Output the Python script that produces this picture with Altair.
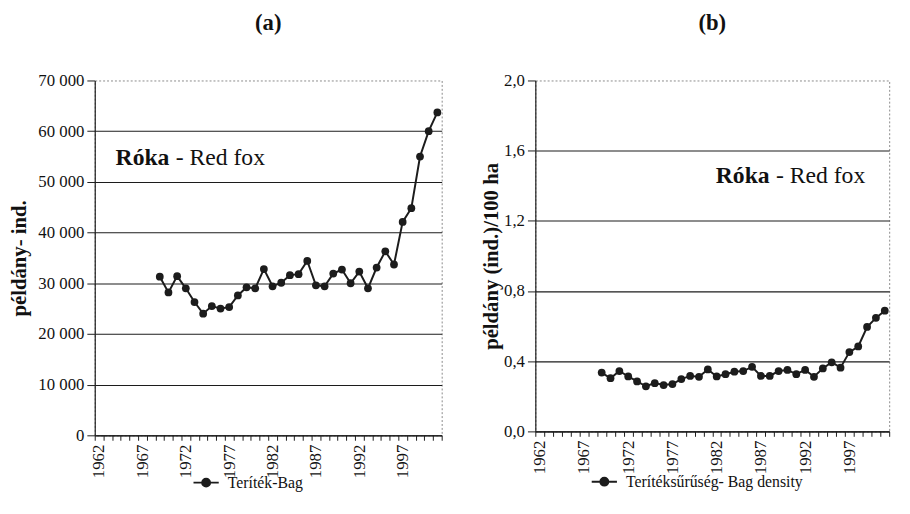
import altair as alt
import pandas as pd

# ---- data ----
years = list(range(1969, 2002))
bag = [31300, 28200, 31400, 29000, 26300, 24000, 25500, 25000, 25300, 27600,
       29200, 29000, 32800, 29400, 30100, 31600, 31800, 34400, 29600, 29400,
       31900, 32700, 30000, 32300, 29000, 33100, 36300, 33700, 42100, 44800,
       55000, 60000, 63700]
density = [0.335, 0.303, 0.344, 0.313, 0.285, 0.257, 0.275, 0.264, 0.270, 0.298,
           0.316, 0.311, 0.353, 0.313, 0.326, 0.340, 0.344, 0.368, 0.316, 0.316,
           0.344, 0.350, 0.326, 0.350, 0.311, 0.359, 0.394, 0.363, 0.452, 0.484,
           0.595, 0.647, 0.688]
left_ticks = [0, 10000, 20000, 30000, 40000, 50000, 60000, 70000]
right_ticks = [0.0, 0.4, 0.8, 1.2, 1.6, 2.0]
cat_bounds = [1961.5 + i for i in range(41)]

FONT = "Liberation Serif, Times New Roman, DejaVu Serif, serif"
INK = "#1c1c1c"
SYM = "M-1.6,0L1.6,0M-0.5,0A0.5,0.5,0,1,1,0.5,0A0.5,0.5,0,1,1,-0.5,0Z"

XLAB = ("(datum.value + 0.5 - 1962) % 5 == 0 && datum.value < 2000 ? "
        "format(datum.value + 0.5, 'd') : ''")


def panel(values, ytitle, ymax, yvals, ylabexpr, title, w, h, toff,
          series, lx, ly, ann_x, ann_y, half, ttpad):
    df = pd.DataFrame({"year": years, "value": values, "series": series})
    x = alt.X("year:Q",
              scale=alt.Scale(domain=[1961.5, 2001.5], nice=False, zero=False),
              axis=alt.Axis(values=cat_bounds, labelExpr=XLAB, labelAngle=270,
                            labelAlign="right", labelBaseline="middle",
                            labelOffset=half, labelOverlap=False, labelFlush=False,
                            labelPadding=4, labelFont=FONT, labelFontSize=17,
                            labelColor="#111", tickSize=5, tickColor=INK,
                            domainColor=INK, domainWidth=1.2, grid=False, title=None))
    y = alt.Y("value:Q",
              scale=alt.Scale(domain=[0, ymax], nice=False, zero=True),
              axis=alt.Axis(values=yvals, labelExpr=ylabexpr, labelFont=FONT,
                            labelFontSize=17, labelColor="#111", labelPadding=3,
                            tickSize=8, tickColor=INK, domainColor=INK,
                            domainWidth=1.2, grid=True, gridColor=INK,
                            gridWidth=1.1,
                            gridOpacity={"condition": {"test": f"datum.value >= {ymax}",
                                                       "value": 0}, "value": 1},
                            title=ytitle, titleFont=FONT, titleFontSize=21,
                            titleFontWeight="bold", titleColor="#111",
                            titlePadding=ttpad))
    line = alt.Chart(df).mark_line(strokeWidth=2).encode(
        x=x, y=y,
        color=alt.Color("series:N", scale=alt.Scale(range=[INK]),
                        legend=alt.Legend(title=None, orient="none", legendX=lx,
                                          legendY=ly, direction="horizontal",
                                          symbolType=SYM, symbolSize=256,
                                          symbolStrokeWidth=2, symbolFillColor=INK,
                                          symbolStrokeColor=INK, symbolOpacity=1,
                                          labelFont=FONT, labelLimit=0,
                                          labelFontSize=16, labelColor="#111",
                                          labelOffset=13, padding=0)))
    pts = alt.Chart(df).mark_circle(size=62, color=INK, opacity=1).encode(x=x, y=y)
    adf = pd.DataFrame({"year": [ann_x], "value": [ann_y]})
    a1 = alt.Chart(adf).mark_text(text="Róka", font=FONT, fontSize=24,
                                  fontWeight="bold", align="left",
                                  baseline="middle", color="#111").encode(x=x, y=y)
    a2 = alt.Chart(adf).mark_text(text="- Red fox", font=FONT, fontSize=24,
                                  align="left", baseline="middle", dx=61,
                                  color="#111").encode(x=x, y=y)
    return alt.layer(line, pts, a1, a2).properties(
        width=w, height=h,
        title=alt.TitleParams(text=title, font=FONT, fontSize=23, fontWeight="bold",
                              anchor="middle", frame="group", offset=toff,
                              color="#111"))


left = panel(bag, "példány- ind.", 70000, left_ticks,
             "replace(format(datum.value, ','), ',', ' ')", "(a)",
             352, 360, 37, "Teríték-Bag", 104, 399, 1963.9, 54640, 4.4, 8)
right = panel(density, "példány (ind.)/100 ha", 2.0, right_ticks,
              "replace(format(datum.value, '.1f'), '.', ',')", "(b)",
              359, 356, 37, "Terítéksűrűség- Bag density", 61, 398, 1981.9, 1.455,
              4.5, 2)

chart = alt.hconcat(left, right, spacing=26).resolve_scale(
    color="independent", x="independent", y="independent"
).resolve_legend(color="independent").configure_view(
    stroke="#8a8a8a", strokeDash=[2, 2], strokeWidth=1
).properties(padding={"left": 0, "top": 0, "right": 0, "bottom": 0},
             background="white")

chart.save("out.html", embed_options={"renderer": "svg", "actions": False})
